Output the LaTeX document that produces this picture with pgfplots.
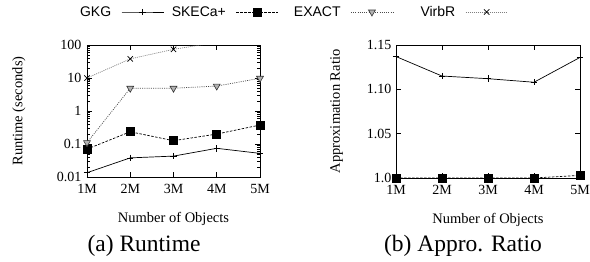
\documentclass[border=0pt]{standalone}
\usepackage{pgfplots}
\pgfplotsset{compat=1.18}
\usepackage{fontspec}
\setmainfont{Liberation Serif}
\newfontfamily\legfont{Liberation Sans}
\begin{document}
\begin{tikzpicture}
\path[use as bounding box] (0pt,0pt) rectangle (590pt,-262pt);
\pgfplotsset{
  common/.style={
    scale only axis,
    /pgf/number format/assume math mode=true,
    axis line style={line width=0.8pt},
    tick align=inside,
    tick style={black, line width=0.6pt},
    major tick length=5pt,
    minor tick length=3pt,
    xmin=1, xmax=5,
    xtick={1,2,3,4,5},
    xticklabels={1M,2M,3M,4M,5M},
    tick label style={font=\fontsize{14}{16}\selectfont},
    xlabel={Number of Objects},
    every axis x label/.style={at={(axis description cs:0.5,0)}, anchor=north, yshift=-32pt, font=\fontsize{14.5}{17}\selectfont},
    xticklabel style={yshift=-4pt},
  },
  gkg/.style={black, solid, line width=0.7pt, mark=+, mark size=3.2pt, mark options={solid, line width=0.7pt}},
  ske/.style={black, dash pattern=on 2.5pt off 1.5pt, line width=0.7pt, mark=square*, mark size=4pt, mark options={solid, fill=black}},
  exa/.style={black!70, dash pattern=on 1pt off 1.2pt, line width=0.7pt, mark=triangle*, mark size=4pt, mark options={solid, rotate=180, fill=black!30, draw=black!80, line width=0.6pt}},
  vir/.style={black!50, dash pattern=on 1pt off 1pt, line width=0.7pt, mark=x, mark size=3.8pt, mark options={solid, draw=black, line width=0.7pt}},
}
% ---------- (a) Runtime ----------
\begin{axis}[common,
  at={(87pt,-177pt)}, anchor=south west,
  width=173pt, height=132pt,
  ymode=log, ymin=0.01, ymax=100,
  ytick={0.01,0.1,1,10,100},
  yticklabels={0.01,0.1,1,10,100},
  ylabel={Runtime (seconds)},
  every axis y label/.style={at={(axis description cs:-0.393,0.5)}, rotate=90, anchor=center, font=\fontsize{14.5}{17}\selectfont},
  yticklabel style={xshift=-2pt},
  legend columns=4,
  legend plot pos=right,
  legend style={draw=none, fill=none, at={(axis description cs:-0.237,1.25)}, anchor=west,
    font=\legfont\fontsize{14}{16}\selectfont,
    nodes={inner sep=0pt},
    column sep=0pt,
    /tikz/every odd column/.append style={column sep=10pt}},
  legend image code/.code={\draw[mark repeat=2,mark phase=2,#1] plot coordinates {(0pt,0pt) (21pt,0pt) (42pt,0pt)};},
]
\addplot[gkg] coordinates {(1,0.0135) (2,0.038) (3,0.043) (4,0.074) (5,0.052)};
\addlegendentry{\makebox[62pt][r]{GKG}}
\addplot[ske] coordinates {(1,0.07) (2,0.235) (3,0.126) (4,0.2) (5,0.376)};
\addlegendentry{\makebox[62pt][r]{SKECa+}}
\addplot[exa] coordinates {(1,0.11) (2,4.9) (3,4.9) (4,5.7) (5,9.8)};
\addlegendentry{\makebox[62pt][r]{EXACT}}
\addplot[vir] coordinates {(1,10) (2,38) (3,74) (4,120) (5,180)};
\addlegendentry{\makebox[62pt][r]{VirbR}}
\end{axis}
% ---------- (b) Approximation ratio ----------
\begin{axis}[common,
  at={(396pt,-178pt)}, anchor=south west,
  width=184pt, height=133pt,
  ymin=1.0, ymax=1.15,
  ytick={1.0,1.05,1.10,1.15},
  yticklabels={1.0,1.05,1.10,1.15},
  minor tick num=0,
  clip=false,
  ylabel={Approximation Ratio},
  every axis y label/.style={at={(axis description cs:-0.323,0.5)}, rotate=90, anchor=center, font=\fontsize{14.5}{17}\selectfont},
  yticklabel style={xshift=-1pt},
]
\addplot[gkg] coordinates {(1,1.137) (2,1.115) (3,1.112) (4,1.108) (5,1.136)};
\addplot[ske] coordinates {(1,1.0) (2,1.0) (3,1.0) (4,1.0) (5,1.003)};
\end{axis}
\node[font=\fontsize{23.5}{28}\selectfont] at (144pt,-246pt) {(a) Runtime};
\node[font=\fontsize{23.5}{28}\selectfont] at (463pt,-246pt) {(b) Appro. Ratio};
\end{tikzpicture}
\end{document}
